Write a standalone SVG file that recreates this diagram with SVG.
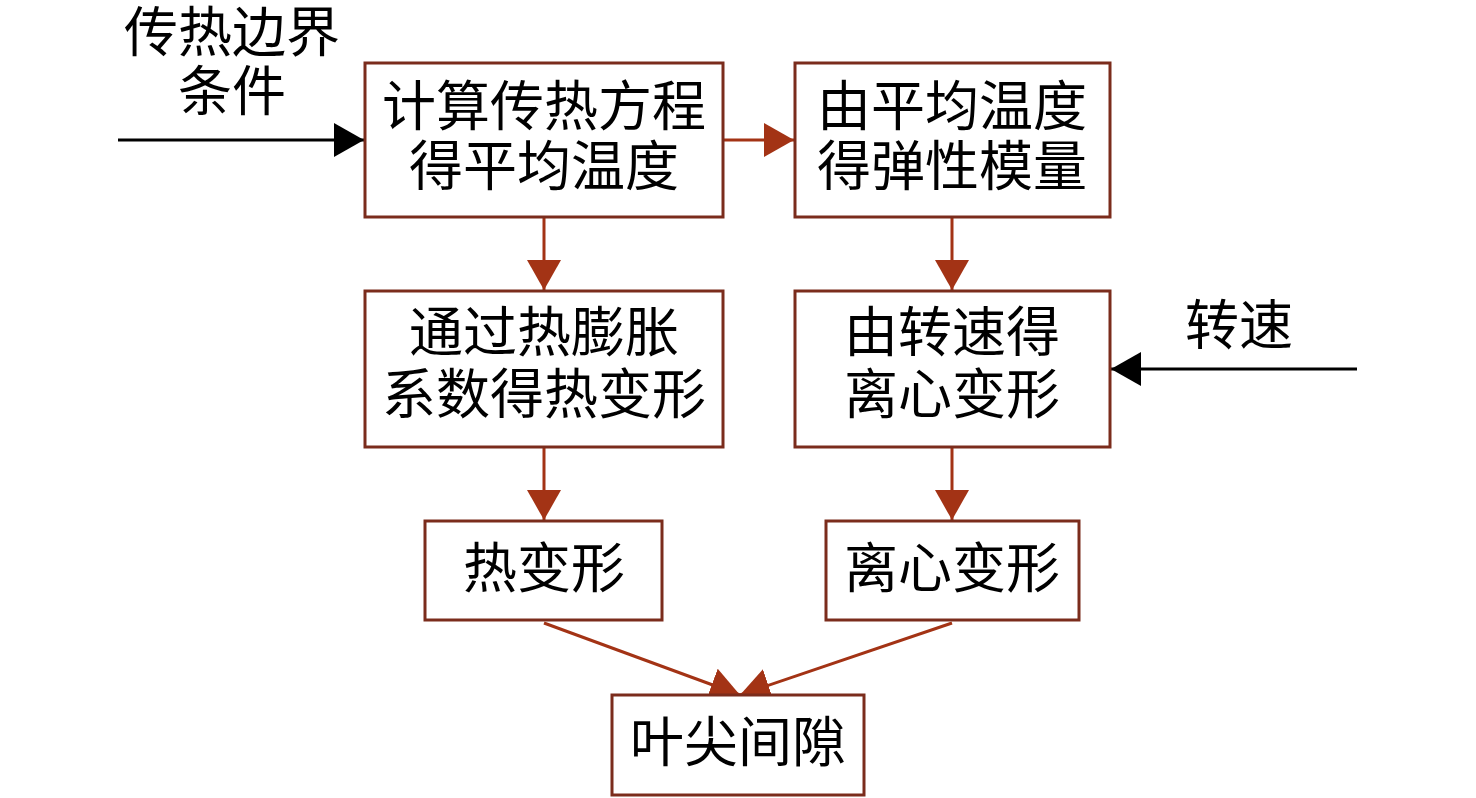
<svg xmlns="http://www.w3.org/2000/svg" width="1476" height="798" viewBox="0 0 1476 798">
<style>
.box{fill:#fff;stroke:#7b2c1c;stroke-width:3}
.t{font-family:"Liberation Serif","Noto Sans CJK SC",serif;font-size:54px;fill:#000;text-anchor:middle;dominant-baseline:central}
.red{stroke:#a33315;stroke-width:3;fill:none}
.blk{stroke:#000;stroke-width:3;fill:none}
</style>
<defs>
<marker id="ar" markerUnits="userSpaceOnUse" markerWidth="32" markerHeight="34" refX="30" refY="17" orient="auto"><path d="M0,0 L30,17 L0,34 Z" fill="#a33315"/></marker>
<marker id="ab" markerUnits="userSpaceOnUse" markerWidth="32" markerHeight="34" refX="30" refY="17" orient="auto"><path d="M0,0 L30,17 L0,34 Z" fill="#000"/></marker>
</defs>
<rect width="1476" height="798" fill="#fff"/>
<g id="connectors">
<line class="blk" x1="118" y1="140" x2="364" y2="140" marker-end="url(#ab)"/>
<line class="blk" x1="1357" y1="369" x2="1111" y2="369" marker-end="url(#ab)"/>
<line class="red" x1="723" y1="140" x2="794" y2="140" marker-end="url(#ar)"/>
<line class="red" x1="544" y1="217" x2="544" y2="290" marker-end="url(#ar)"/>
<line class="red" x1="952" y1="217" x2="952" y2="290" marker-end="url(#ar)"/>
<line class="red" x1="544" y1="447" x2="544" y2="520" marker-end="url(#ar)"/>
<line class="red" x1="952" y1="447" x2="952" y2="520" marker-end="url(#ar)"/>
<line class="red" x1="544" y1="623" x2="740" y2="695" marker-end="url(#ar)"/>
<line class="red" x1="952" y1="623" x2="740" y2="695" marker-end="url(#ar)"/>
</g>
<g id="label-boundary">
<text class="t" x="232" y="34">传热边界</text>
<text class="t" x="232" y="93">条件</text>
</g>
<g id="label-speed">
<text class="t" x="1239" y="327">转速</text>
</g>
<g id="n1">
<rect class="box" x="365" y="63" width="358" height="154"/>
<text class="t" x="544" y="108">计算传热方程</text>
<text class="t" x="544" y="168">得平均温度</text>
</g>
<g id="n2">
<rect class="box" x="795" y="63" width="315" height="154"/>
<text class="t" x="952" y="108">由平均温度</text>
<text class="t" x="952" y="168">得弹性模量</text>
</g>
<g id="n3">
<rect class="box" x="365" y="291" width="358" height="156"/>
<text class="t" x="544" y="334">通过热膨胀</text>
<text class="t" x="544" y="396">系数得热变形</text>
</g>
<g id="n4">
<rect class="box" x="795" y="291" width="315" height="156"/>
<text class="t" x="952" y="334">由转速得</text>
<text class="t" x="952" y="396">离心变形</text>
</g>
<g id="n5">
<rect class="box" x="425" y="521" width="237" height="99"/>
<text class="t" x="544" y="570">热变形</text>
</g>
<g id="n6">
<rect class="box" x="826" y="521" width="253" height="99"/>
<text class="t" x="952" y="570">离心变形</text>
</g>
<g id="n7">
<rect class="box" x="612" y="695" width="252" height="100"/>
<text class="t" x="738" y="744">叶尖间隙</text>
</g>
</svg>
